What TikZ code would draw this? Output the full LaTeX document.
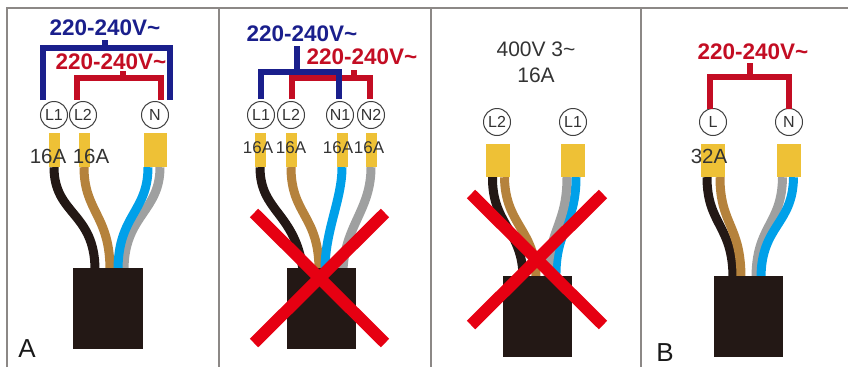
\documentclass[tikz,border=0pt]{standalone}
\usepackage{fontspec}
\setmainfont{Liberation Sans}
\definecolor{wireblack}{HTML}{231815}
\definecolor{wirebrown}{HTML}{B5823C}
\definecolor{wireblue}{HTML}{00A0E9}
\definecolor{wiregray}{HTML}{9FA0A0}
\definecolor{termyellow}{HTML}{EEC136}
\definecolor{linkblue}{HTML}{1A1F8C}
\definecolor{linkred}{HTML}{C30D23}
\definecolor{crossred}{HTML}{E60012}
\definecolor{framegray}{HTML}{8C8886}
\newcommand{\volts}{220-240V\textasciitilde}

\begin{document}
\begin{tikzpicture}[x=1pt, y=-1pt]

    % --- Styles ---
    \tikzset{
        frameline/.style={framegray, line width=2pt},
        pin/.style={circle, draw=black!75, fill=white, line width=1pt, minimum size=27pt, inner sep=0pt, text=black!80, font=\fontsize{16}{18}\selectfont},
        term/.style={fill=termyellow, inner sep=0pt, minimum width=11pt, minimum height=34pt},
        termwide/.style={term, minimum width=24pt, minimum height=33pt},
        plug/.style={fill=wireblack, inner sep=0pt, minimum width=69pt, minimum height=81pt},
        wire/.style={line width=9pt},
        link/.style={line width=5.5pt},
        bluelink/.style={link, linkblue},
        redlink/.style={link, linkred},
        bigcross/.style={crossred, line width=12pt},
        voltlabel/.style={inner sep=0pt, font=\fontsize{22.5}{24}\selectfont\bfseries},
        amplabel/.style={inner sep=0pt, text=black!80, font=\fontsize{20.5}{22}\selectfont},
        smallamp/.style={amplabel, font=\fontsize{17}{19}\selectfont},
        panelname/.style={inner sep=0pt, text=black!90, font=\fontsize{26}{28}\selectfont}
    }

    \useasboundingbox (0,0) rectangle (848,367);

    % --- 0. Rahmen ---
    \draw[frameline] (7,367) -- (7,8) -- (848,8);
    \draw[frameline] (219,8) -- (219,367);
    \draw[frameline] (431,8) -- (431,367);
    \draw[frameline] (641,8) -- (641,367);

    % --- 1. Panel A ---
    \node[term] (aY1) at (54,150) {};
    \node[term] (aY2) at (84,150) {};
    \node[term, minimum width=23pt] (aYN) at (155,150) {};
    \node[pin] (aL1) at (54,115) {L1};
    \node[pin] (aL2) at (83,115) {L2};
    \node[pin] (aN) at (155,115) {N};

    \coordinate (aE1) at (95,270);
    \coordinate (aE2) at (110,270);
    \coordinate (aE3) at (118,270);
    \coordinate (aE4) at (124,270);
    \draw[wire, wireblack] (aY1.south) .. controls (54,215) and (95,212) .. (aE1);
    \draw[wire, wirebrown] (aY2.south) .. controls (84,212) and (110,215) .. (aE2);
    \draw[wire, wiregray] ([xshift=5pt]aYN.south) .. controls (160,212) and (124,215) .. (aE4);
    \draw[wire, wireblue] ([xshift=-7pt]aYN.south) .. controls (148,212) and (118,215) .. (aE3);
    \node[plug, minimum width=70pt] (aBox) at (108,308.5) {};

    \coordinate (aRm) at (123,78);
    \coordinate (aBm) at (105,48);
    \coordinate (aBl) at (43,100);
    \coordinate (aBr) at (170,100);
    \coordinate (aRl) at (77,100);
    \coordinate (aRr) at (161,100);
    \draw[redlink] (aRl) -- (77,78) -- (161,78) -- (aRr);
    \node[voltlabel, text=linkred] (aVr) at (111,62) {\volts};
    \draw[redlink] (aRm) -- ++(0,-7);
    \draw[bluelink] (aBl) -- (43,48) -- (170,48) -- (aBr);
    \draw[bluelink] (aBm) -- ++(0,-8);
    \node[voltlabel, text=linkblue] (aVb) at (105,28) {\volts};

    \node[amplabel] (aA1) at (48,156) {16A};
    \node[amplabel] (aA2) at (91,156) {16A};
    \node[panelname] (aName) at (27,349) {A};

    % --- 2. Panel mit vier Leitern ---
    \node[term] (bY1) at (260,150) {};
    \node[term] (bY2) at (291,150) {};
    \node[term] (bY3) at (342,150) {};
    \node[term] (bY4) at (371,150) {};
    \node[pin] (bL1) at (261,115) {L1};
    \node[pin] (bL2) at (291,115) {L2};
    \node[pin] (bN1) at (340,115) {N1};
    \node[pin] (bN2) at (371,115) {N2};

    \coordinate (bE1) at (303,270);
    \coordinate (bE2) at (319,270);
    \coordinate (bE3) at (325,270);
    \coordinate (bE4) at (343,270);
    \draw[wire, wireblack] (bY1.south) .. controls (260,212) and (295,212) .. (bE1);
    \draw[wire, wirebrown] (bY2.south) .. controls (291,215) and (319,215) .. (bE2);
    \draw[wire, wireblue] (bY3.south) .. controls (342,200) and (325,230) .. (bE3);
    \draw[wire, wiregray] (bY4.south) .. controls (371,210) and (345,225) .. (bE4);
    \node[plug] (bBox) at (321,308.5) {};

    \coordinate (bRl) at (292,99);
    \coordinate (bRr) at (370,99);
    \coordinate (bRm) at (354,78);
    \coordinate (bBl) at (261,99);
    \coordinate (bBr) at (339,99);
    \coordinate (bBm) at (297,72);
    \draw[redlink] (bRl) -- (292,78) -- (370,78) -- (bRr);
    \draw[redlink] (bRm) -- ++(0,-8);
    \draw[bluelink] (bBl) -- (261,72) -- (339,72) -- (bBr);
    \draw[bluelink] (bBm) -- ++(0,-26);
    \node[voltlabel, text=linkblue] (bVb) at (302,34) {\volts};
    \node[voltlabel, text=linkred] (bVr) at (362,57) {\volts};

    \node[smallamp] (bA1) at (258,148) {16A};
    \node[smallamp] (bA2) at (291,148) {16A};
    \node[smallamp] (bA3) at (338,148) {16A};
    \node[smallamp] (bA4) at (369,148) {16A};

    \draw[bigcross] (254,213) -- (385,343);
    \draw[bigcross] (254,343) -- (385,213);

    % --- 3. Panel 400V ---
    \node[amplabel, align=center, font=\fontsize{21}{26}\selectfont] (cV) at (536,62) {400V 3\textasciitilde\\16A};
    \node[pin] (cL2) at (497,122) {L2};
    \node[pin] (cL1) at (573,122) {L1};
    \node[termwide] (cY2) at (497.5,160.5) {};
    \node[termwide] (cY1) at (573,160.5) {};

    \coordinate (cE1) at (523,278);
    \coordinate (cE2) at (536,278);
    \coordinate (cE3) at (548,278);
    \coordinate (cE4) at (556,278);
    \draw[wire, wireblack] ([xshift=-5pt]cY2.south) .. controls (492,225) and (523,230) .. (cE1);
    \draw[wire, wirebrown] ([xshift=7pt]cY2.south) .. controls (505,225) and (536,230) .. (cE2);
    \draw[wire, wireblue] ([xshift=3pt]cY1.south) .. controls (576,225) and (555,230) .. (cE4);
    \draw[wire, wiregray] ([xshift=-6pt]cY1.south) .. controls (567,225) and (548,230) .. (cE3);
    \node[plug] (cBox) at (537.5,316.5) {};

    \draw[bigcross] (471,194) -- (603,325);
    \draw[bigcross] (471,325) -- (603,194);

    % --- 4. Panel B ---
    \node[pin] (dL) at (713,122) {L};
    \node[pin] (dN) at (789,122) {N};
    \node[termwide] (dYL) at (713,160.5) {};
    \node[termwide] (dYN) at (788.5,160.5) {};

    \coordinate (dE1) at (733,278);
    \coordinate (dE2) at (741,278);
    \coordinate (dE3) at (756,278);
    \coordinate (dE4) at (761,278);
    \draw[wire, wireblack] ([xshift=-6pt]dYL.south) .. controls (707,225) and (733,225) .. (dE1);
    \draw[wire, wirebrown] ([xshift=7pt]dYL.south) .. controls (720,225) and (741,225) .. (dE2);
    \draw[wire, wiregray] ([xshift=-6pt]dYN.south) .. controls (782,225) and (756,225) .. (dE3);
    \draw[wire, wireblue] ([xshift=5pt]dYN.south) .. controls (793,225) and (761,225) .. (dE4);
    \node[plug] (dBox) at (748,316.5) {};

    \coordinate (dRl) at (710,109);
    \coordinate (dRr) at (789,109);
    \coordinate (dRm) at (750,77);
    \draw[redlink] (dRl) -- (710,77) -- (789,77) -- (dRr);
    \draw[redlink] (dRm) -- ++(0,-14);
    \node[voltlabel, text=linkred] (dV) at (753,52) {\volts};

    \node[amplabel] (dA) at (709,156) {32A};
    \node[panelname] (dName) at (665,353) {B};

\end{tikzpicture}
\end{document}
